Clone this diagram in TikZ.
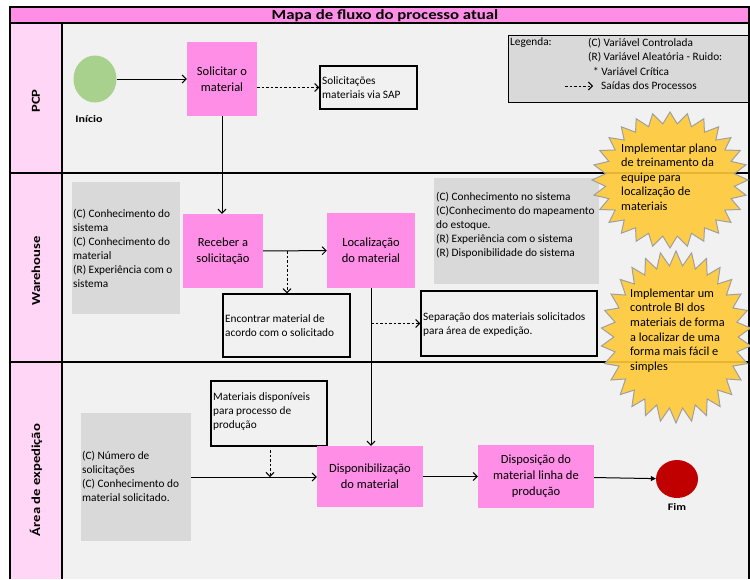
\documentclass[tikz,border=0pt]{standalone}
\usepackage{fontspec}
\setmainfont{Carlito}
\newfontfamily\titlefont[FakeStretch=1.2]{Carlito}
\usetikzlibrary{arrows.meta,shapes.geometric}
\definecolor{boxpink}{RGB}{255,143,230}
\definecolor{lanepink}{RGB}{255,214,245}
\definecolor{bgray}{RGB}{241,241,241}
\definecolor{ggray}{RGB}{217,217,217}
\definecolor{sgreen}{RGB}{169,209,142}
\definecolor{sred}{RGB}{192,0,0}
\definecolor{sun}{RGB}{255,202,56}
\begin{document}
\begin{tikzpicture}[x=1pt,y=-1pt,
  procbox/.style={fill=boxpink, draw=none, align=center, inner sep=2pt, font=\fontsize{12.5}{15.8}\selectfont},
  graybox/.style={fill=ggray, draw=none, inner sep=0pt},
  outbox/.style={fill=bgray, draw=black, line width=1.2pt, inner sep=0pt},
  smalltext/.style={align=left, inner sep=0pt, anchor=west, font=\fontsize{11.3}{14}\selectfont},
  startext/.style={align=left, inner sep=0pt, anchor=west, font=\fontsize{12.3}{14.6}\selectfont},
  arr/.style={-{Straight Barb[length=4pt,width=8pt]}, line width=1pt},
  dasharr/.style={arr, dash pattern=on 2.5pt off 2pt},
  lanelabel/.style={rotate=90, inner sep=0pt, font=\titlefont\bfseries\fontsize{12.2}{14}\selectfont},
  endlabel/.style={inner sep=0pt, font=\titlefont\bfseries\fontsize{10}{11}\selectfont},
  sunstyle/.style={fill=sun, fill opacity=0.9, draw=gray!75, line width=1pt}
]
\useasboundingbox (0,0) rectangle (750,579);
% backgrounds
\fill[white] (0,0) rectangle (750,579);
\fill[bgray] (10,7) rectangle (749,579);
\fill[lanepink] (10,23) rectangle (62,579);
\fill[boxpink] (10,7) rectangle (749,23);
% frame and lanes
\draw[line width=1.3pt] (10,579) -- (10,7) -- (749,7) -- (749,579);
\draw[line width=1.3pt] (10,23) -- (749,23);
\draw[line width=1.3pt] (62,23) -- (62,579);
\draw[line width=1.3pt] (10,173) -- (749,173);
\draw[line width=1.3pt] (10,362) -- (749,362);
\node[font=\titlefont\bfseries\fontsize{14}{15}\selectfont, inner sep=0pt] (title) at (385,15.5) {Mapa de fluxo do processo atual};
% lane labels
\node[lanelabel] (lpcp) at (36,101) {PCP};
\node[lanelabel] (lwh) at (36,271) {Warehouse};
\node[lanelabel] (lexp) at (36,480) {Área de expedição};
% PCP lane
\node[ellipse, fill=sgreen, minimum width=43pt, minimum height=47pt, inner sep=0pt] (start) at (95,79) {};
\node[endlabel] (lstart) at (89,119) {Início};
\node[procbox, minimum width=70pt, minimum height=74pt] (solicitar) at (222,79) {Solicitar o\\material};
\node[outbox, minimum width=97pt, minimum height=43pt] (sap) at (368.5,87.5) {};
\node[smalltext] (tsap) at (322,88) {Solicitações\\materiais via SAP};
% legend
\node[graybox, draw=black, line width=1pt, minimum width=240pt, minimum height=67pt] (legend) at (628,68.5) {};
\node[smalltext] (lg1) at (510,43) {Legenda:};
\node[smalltext] (lg2) at (588,43) {(C) Variável Controlada};
\node[smalltext] (lg3) at (588,57.5) {(R) Variável Aleatória - Ruido:};
\node[smalltext] (lg4) at (593,71.5) {* Variável Crítica};
\node[smalltext] (lg5) at (601,86) {Saídas dos Processos};
\coordinate (lga) at (565,86);
\coordinate (lgb) at (593,86);
\draw[dasharr] (lga) -- (lgb);
% Warehouse lane
\node[graybox, minimum width=108pt, minimum height=132pt] (gray1) at (126,248) {};
\node[smalltext] (tg1) at (73,248) {(C) Conhecimento do\\sistema\\(C) Conhecimento do\\material\\(R) Experiência com o\\sistema};
\node[procbox, minimum width=80pt, minimum height=74pt] (receber) at (223,251) {Receber a\\solicitação};
\node[procbox, minimum width=88pt, minimum height=75pt] (local) at (371,250.5) {Localização\\do material};
\node[graybox, minimum width=165pt, minimum height=106pt] (gray2) at (516.5,231) {};
\node[smalltext] (tg2) at (436,225) {(C) Conhecimento no sistema\\(C)Conhecimento do mapeamento\\do estoque.\\(R) Experiência com o sistema\\(R) Disponibilidade do sistema};
\node[outbox, minimum width=127pt, minimum height=63pt] (encontrar) at (286.5,325.5) {};
\node[smalltext] (tenc) at (225,325.5) {Encontrar material de\\acordo com o solicitado};
\node[outbox, minimum width=176pt, minimum height=65pt] (separa) at (509,323.5) {};
\node[smalltext] (tsep) at (423,324.5) {Separação dos materiais solicitados\\para área de expedição.};
% Expedicao lane
\node[graybox, minimum width=110pt, minimum height=128pt] (gray3) at (136,477) {};
\node[smalltext] (tg3) at (82,476) {(C) Número de\\solicitações\\(C) Conhecimento do\\material solicitado.};
\node[outbox, minimum width=116pt, minimum height=65pt] (materiais) at (269,413.5) {};
\node[smalltext] (tmat) at (213,412) {Materiais disponíveis\\para processo de\\produção};
\node[procbox, minimum width=106pt, minimum height=61pt] (dispon) at (370,476.5) {Disponibilização\\do material};
\node[procbox, minimum width=116pt, minimum height=63pt] (dispos) at (536,476.5) {Disposição do\\material linha de\\produção};
\node[ellipse, fill=sred, minimum width=42pt, minimum height=38pt, inner sep=0pt] (fim) at (677,479) {};
\node[endlabel] (lfim) at (677,507) {Fim};
% connectors
\draw[arr] (start) -- (solicitar);
\draw[dasharr] (solicitar.east |- sap.west) -- (sap.west);
\draw[arr] (solicitar.south) -- (solicitar.south |- receber.north);
\draw[arr] (receber) -- (local);
\coordinate (c1) at (287,251);
\draw[dasharr] (c1) -- (c1 |- encontrar.north);
\draw[arr] (local.south) -- (local.south |- dispon.north);
\draw[dasharr] (local.south |- separa.west) -- (separa.west);
\draw[arr] (gray3.east) -- (gray3.east -| dispon.west);
\coordinate (c3) at (270,450);
\draw[dasharr] (c3) -- (c3 |- gray3.east);
\draw[arr] (dispon) -- (dispos);
\draw[-{Triangle[length=5pt,width=5pt]}, line width=1pt] (dispos) -- (fim);
% suns
\draw[sunstyle] plot[samples at={0,...,55}, variable=\i] ({670+78*(1-0.17*mod(\i,2))*cos(\i*6.428571+90)}, {180+68*(1-0.17*mod(\i,2))*sin(\i*6.428571+90)}) -- cycle;
\draw[sunstyle] plot[samples at={0,...,59}, variable=\i] ({676+75*(1-0.17*mod(\i,2))*cos(\i*6+90)}, {337+86*(1-0.17*mod(\i,2))*sin(\i*6+90)}) -- cycle;
\node[startext] (sun1) at (621,177) {Implementar plano\\de treinamento da\\equipe para\\localização de\\materiais};
\node[startext] (sun2) at (630,330.5) {Implementar um\\controle BI dos\\materiais de forma\\a localizar de uma\\forma mais fácil e\\simples};
\end{tikzpicture}
\end{document}
